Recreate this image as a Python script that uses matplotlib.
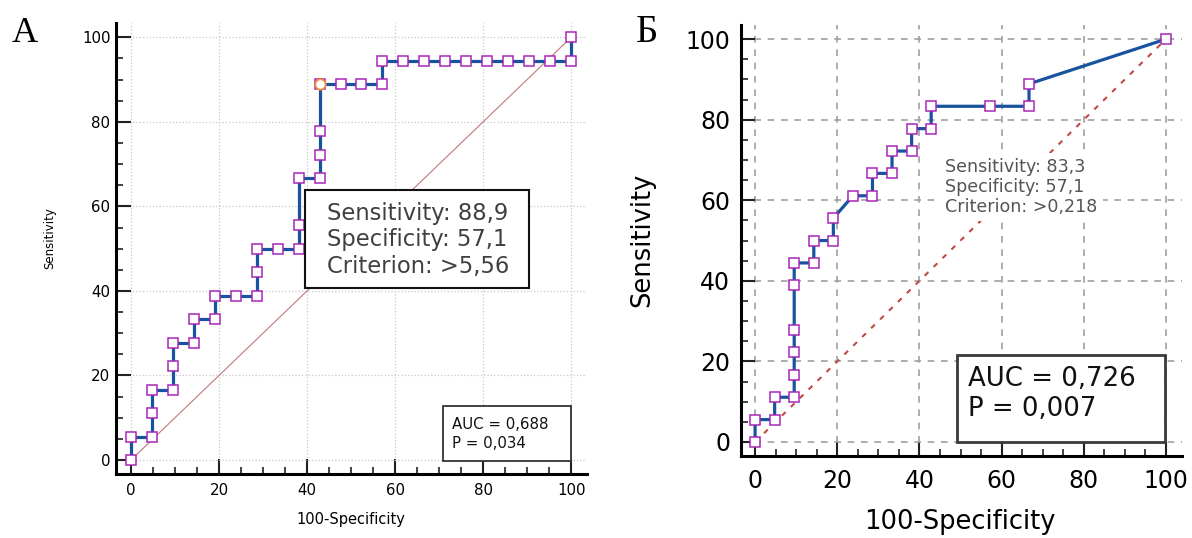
import matplotlib
matplotlib.use('Agg')
import matplotlib.pyplot as plt
from matplotlib.patches import Rectangle
from matplotlib.ticker import MultipleLocator

# panel A: ROC points (100-Specificity, Sensitivity)
fpr_a = [0, 0, 4.76, 4.76, 4.76, 9.52, 9.52, 9.52, 14.29, 14.29, 19.05, 19.05,
         23.81, 28.57, 28.57, 28.57, 33.33, 38.10, 38.10, 38.10, 42.86, 42.86,
         42.86, 42.86, 47.62, 52.38, 57.14, 57.14, 61.90, 66.67, 71.43, 76.19,
         80.95, 85.71, 90.48, 95.24, 100, 100]
sens_a = [0, 5.56, 5.56, 11.11, 16.67, 16.67, 22.22, 27.78, 27.78, 33.33, 33.33, 38.89,
          38.89, 38.89, 44.44, 50.0, 50.0, 50.0, 55.56, 66.67, 66.67, 72.22,
          77.78, 88.89, 88.89, 88.89, 88.89, 94.44, 94.44, 94.44, 94.44, 94.44,
          94.44, 94.44, 94.44, 94.44, 94.44, 100]
best_a = (42.86, 88.89)
info_a = ['Sensitivity: 88,9', 'Specificity: 57,1', 'Criterion: >5,56']
auc_a = ['AUC = 0,688', 'P = 0,034']

# panel Б
fpr_b = [0, 0, 4.76, 4.76, 9.52, 9.52, 9.52, 9.52, 9.52, 9.52, 14.29, 14.29,
         19.05, 19.05, 23.81, 28.57, 28.57, 33.33, 33.33, 38.10, 38.10, 42.86,
         42.86, 57.14, 66.67, 66.67, 100]
sens_b = [0, 5.56, 5.56, 11.11, 11.11, 16.67, 22.22, 27.78, 38.89, 44.44, 44.44, 50.0,
          50.0, 55.56, 61.11, 61.11, 66.67, 66.67, 72.22, 72.22, 77.78, 77.78,
          83.33, 83.33, 83.33, 88.89, 100]
info_b = ['Sensitivity: 83,3', 'Specificity: 57,1', 'Criterion: >0,218']
auc_b = ['AUC = 0,726', 'P = 0,007']

line_col = '#17539e'
mark_col = '#a826b8'

fig = plt.figure(figsize=(11.92, 5.38), dpi=100)
ax_a = fig.add_axes([0.0973, 0.119, 0.3951, 0.8383])
ax_b = fig.add_axes([0.6214, 0.1515, 0.3702, 0.802])


def style_axes(ax, xlim, ylim, tick_size, maj_len, lpad_x, lpad_y, grid_kw):
    ax.set_xlim(*xlim)
    ax.set_ylim(*ylim)
    for side in ['top', 'right']:
        ax.spines[side].set_visible(False)
    for side in ['left', 'bottom']:
        ax.spines[side].set_linewidth(2.2)
    ax.xaxis.set_minor_locator(MultipleLocator(5))
    ax.yaxis.set_minor_locator(MultipleLocator(5))
    ax.set_xticks(range(0, 101, 20))
    ax.set_yticks(range(0, 101, 20))
    ax.tick_params(which='major', direction='in', length=maj_len, width=1.5,
                   labelsize=tick_size, color='#222222')
    ax.tick_params(which='minor', direction='in', length=maj_len * 0.5, width=1.2,
                   color='#222222')
    ax.tick_params(axis='x', which='major', pad=lpad_x)
    ax.tick_params(axis='y', which='major', pad=lpad_y)
    ax.set_axisbelow(True)
    ax.grid(True, which='major', **grid_kw)


# ---- panel A ----
style_axes(ax_a, (-3.4, 103.6), (-3.3, 103.4), 10.8, 10.5, 6.5, 4.0,
           dict(color='#c8c8c8', linestyle=':', linewidth=0.9))
ax_a.plot([0, 100], [0, 100], color='#b05858', linewidth=0.8, alpha=0.8, zorder=2)
ax_a.plot(fpr_a, sens_a, color=line_col, linewidth=2.3, marker='s', markersize=7,
          markerfacecolor='white', markeredgecolor=mark_col, markeredgewidth=1.1, zorder=3)
ax_a.plot([best_a[0]], [best_a[1]], marker='o', markersize=7.5, markerfacecolor='white',
          markeredgecolor='#f08a3c', markeredgewidth=1.3, linestyle='none', zorder=4)
ax_a.set_xlabel('100-Specificity', fontsize=10.5)
ax_a.set_ylabel('Sensitivity', fontsize=8.5)
ax_a.xaxis.set_label_coords(0.4985, -0.102)
ax_a.xaxis.label.set_va('center')
ax_a.yaxis.set_label_coords(-0.140, 0.5226)
ax_a.yaxis.label.set_va('center')

ax_a.add_patch(Rectangle((39.5, 40.7), 51.0, 23.2, facecolor='white',
                         edgecolor='#111111', linewidth=1.5, zorder=5))
ax_a.text(44.5, 52.1, '\n'.join(info_a), fontsize=16.3, color='#404040',
          ha='left', va='center', linespacing=1.2, zorder=6)
ax_a.add_patch(Rectangle((71.0, -0.2), 29.0, 13.0, facecolor='white',
                         edgecolor='#333333', linewidth=1.3, zorder=5))
ax_a.text(72.9, 6.2, '\n'.join(auc_a), fontsize=10.8, color='#111111',
          ha='left', va='center', linespacing=1.3, zorder=6)

# ---- panel Б ----
style_axes(ax_b, (-3.5, 103.9), (-3.6, 103.5), 17, 10, 9, 7.7,
           dict(color='#a0a0a0', linestyle=(0, (4, 4)), linewidth=1.2))
ax_b.plot([0, 100], [0, 100], color='#c04848', linewidth=1.5,
          linestyle=(0, (2.5, 3.5)), zorder=2)
ax_b.plot(fpr_b, sens_b, color=line_col, linewidth=2.3, marker='s', markersize=7.5,
          markerfacecolor='white', markeredgecolor=mark_col, markeredgewidth=1.1, zorder=3)
ax_b.set_xlabel('100-Specificity', fontsize=18.5)
ax_b.set_ylabel('Sensitivity', fontsize=18.5)
ax_b.xaxis.set_label_coords(0.497, -0.151)
ax_b.xaxis.label.set_va('center')
ax_b.yaxis.set_label_coords(-0.2225, 0.502)
ax_b.yaxis.label.set_va('center')

ax_b.text(46.2, 63.3, '\n'.join(info_b), fontsize=12.6, color='#555555',
          ha='left', va='center', linespacing=1.12, zorder=6,
          bbox=dict(facecolor='white', edgecolor='none', pad=4))
ax_b.add_patch(Rectangle((49.1, 0.1), 50.7, 21.5, facecolor='white',
                         edgecolor='#3a3a3a', linewidth=2.0, zorder=5))
ax_b.text(51.8, 11.9, '\n'.join(auc_b), fontsize=18.7, color='#111111',
          ha='left', va='center', linespacing=1.2, zorder=6)

# panel letters
fig.text(25 / 1192, 1 - 33 / 538, 'А', family='Liberation Serif', fontsize=26,
         ha='center', va='center')
fig.text(647 / 1192, 1 - 33 / 538, 'Б', family='Liberation Serif', fontsize=28,
         ha='center', va='center')

fig.savefig('out.png', dpi=100)
